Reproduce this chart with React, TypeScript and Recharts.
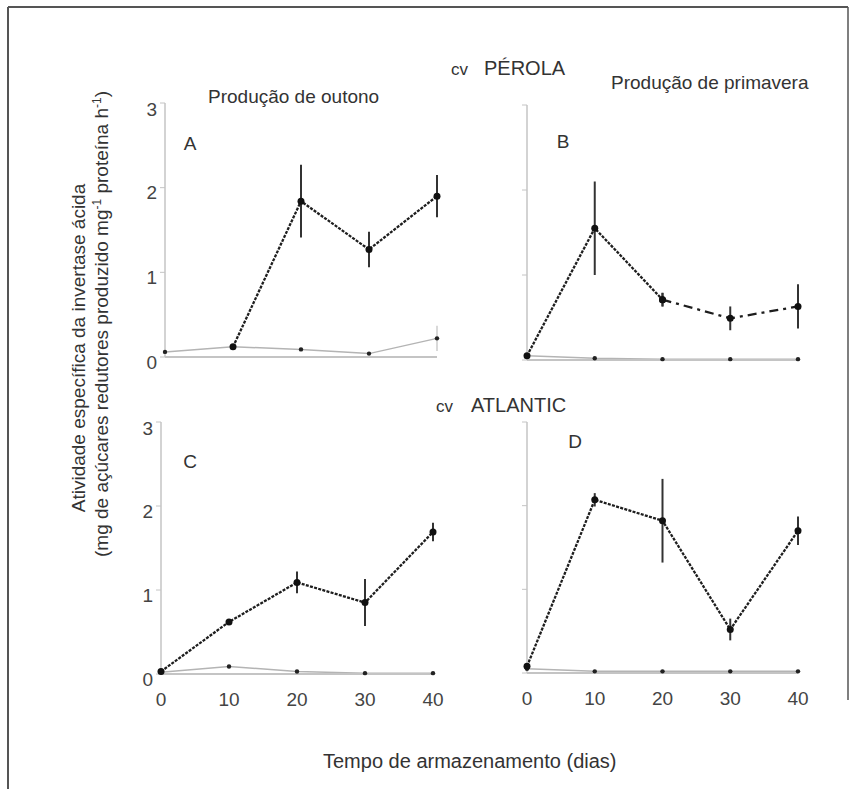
import React from 'react';
import { LineChart, Line, XAxis, YAxis, ErrorBar } from 'recharts';

const days = [0, 10, 20, 30, 40];
const xTicks = [0, 10, 20, 30, 40];
const yTicks = [0, 1, 2, 3];

// Panel A – Pérola, produção de outono
const aMain = [null, 0.12, 1.84, 1.27, 1.9];
const aMainErr = [0, 0, 0.43, 0.21, 0.25];
const aLow = [0.06, 0.12, 0.09, 0.04, 0.22];
const aLowErr = [0, 0, 0, 0, 0.15];

// Panel B – Pérola, produção de primavera
const bMain = [0.05, 1.55, 0.71, null, null];
const bMainErr = [0, 0.55, 0.08, 0, 0];
const bTail = [null, null, 0.71, 0.49, 0.63];
const bTailErr = [0, 0, 0.08, 0.14, 0.26];
const bLow = [0.05, 0.02, 0.01, 0.01, 0.01];

// Panel C – Atlantic, produção de outono
const cMain = [0.03, 0.62, 1.09, 0.85, 1.69];
const cMainErr = [0, 0.02, 0.13, 0.28, 0.11];
const cLow = [0.02, 0.09, 0.03, 0.01, 0.01];

// Panel D – Atlantic, produção de primavera
const dMain = [0.08, 2.07, 1.82, 0.52, 1.7];
const dMainErr = [0, 0.08, 0.5, 0.13, 0.17];
const dLow = [0.05, 0.02, 0.02, 0.02, 0.02];

const FONT = 'Liberation Sans, Arial, sans-serif';
const AXIS = '#c4c4c4';

type Row = { day: number; main: number | null; mainErr: number; low: number | null; lowErr: number; tail: number | null; tailErr: number };

function build(main: (number | null)[], mainErr: number[], low: number[], lowErr?: number[], tail?: (number | null)[], tailErr?: number[]): Row[] {
  return days.map((d, i) => ({
    day: d,
    main: main[i],
    mainErr: mainErr[i],
    low: low[i],
    lowErr: lowErr ? lowErr[i] : 0,
    tail: tail ? tail[i] : null,
    tailErr: tailErr ? tailErr[i] : 0,
  }));
}

const dataA = build(aMain, aMainErr, aLow, aLowErr);
const dataB = build(bMain, bMainErr, bLow, undefined, bTail, bTailErr);
const dataC = build(cMain, cMainErr, cLow);
const dataD = build(dMain, dMainErr, dLow);

type PanelProps = {
  left: number; top: number; w: number; h: number;
  data: Row[]; showX: boolean; showY: boolean; hasTail?: boolean; hasLowErr?: boolean;
};

const ML = 40, MT = 10, MR = 20, MB = 40;

function Panel({ left, top, w, h, data, showX, showY, hasTail, hasLowErr }: PanelProps) {
  return (
    <div style={{ position: 'absolute', left: left - ML, top: top - MT }}>
      <LineChart width={w + ML + MR} height={h + MT + MB} data={data} margin={{ top: MT, right: MR, bottom: 0, left: 0 }}>
        <XAxis
          dataKey="day" type="number" domain={[0, 40]} ticks={xTicks} height={MB}
          axisLine={{ stroke: AXIS, strokeWidth: 2 }} tickLine={false} tickMargin={13}
          tick={{ fill: '#444', fontSize: 19, fontFamily: FONT }}
          tickFormatter={(v: number) => (showX ? String(v) : '')}
        />
        <YAxis
          type="number" domain={[0, 3]} ticks={yTicks} width={ML}
          axisLine={{ stroke: AXIS, strokeWidth: 1.5 }} tickLine={{ stroke: AXIS }} tickSize={5} tickMargin={3}
          tick={{ fill: '#444', fontSize: 19, fontFamily: FONT, dy: 5 }}
          tickFormatter={(v: number) => (showY ? String(v) : '')}
        />
        <Line
          dataKey="low" stroke="#b4b4b4" strokeWidth={1.5} isAnimationActive={false}
          dot={{ r: 2.2, fill: '#222', stroke: '#222', strokeWidth: 0 }}
        >
          {hasLowErr ? <ErrorBar dataKey="lowErr" width={0} stroke="#ccc" strokeWidth={1.5} direction="y" isAnimationActive={false} /> : null}
        </Line>
        <Line
          dataKey="main" stroke="#1e1e1e" strokeWidth={2.3} strokeDasharray="3 1.3" isAnimationActive={false}
          dot={{ r: 3.5, fill: '#111', stroke: '#111', strokeWidth: 0 }}
        >
          <ErrorBar dataKey="mainErr" width={0} stroke="#333" strokeWidth={2} direction="y" isAnimationActive={false} />
        </Line>
        {hasTail ? (
          <Line
            dataKey="tail" stroke="#1e1e1e" strokeWidth={2.3} strokeDasharray="9 5 3 5" isAnimationActive={false}
            dot={{ r: 3.5, fill: '#111', stroke: '#111', strokeWidth: 0 }}
          >
            <ErrorBar dataKey="tailErr" width={0} stroke="#333" strokeWidth={2} direction="y" isAnimationActive={false} />
          </Line>
        ) : null}
      </LineChart>
    </div>
  );
}

export default function App() {
  const txt = { fontFamily: FONT, fill: '#333' } as const;
  return (
    <div style={{ position: 'absolute', left: 0, top: 0, width: 866, height: 789, background: '#fff', overflow: 'hidden' }}>
      <Panel left={165} top={103} w={272} h={254} data={dataA} showX={false} showY={true} hasLowErr />
      <Panel left={527} top={105} w={271} h={255} data={dataB} showX={false} showY={false} hasTail />
      <Panel left={161} top={422} w={272} h={252} data={dataC} showX={true} showY={true} />
      <Panel left={527} top={422} w={271} h={251} data={dataD} showX={true} showY={false} />
      <svg width={866} height={789} style={{ position: 'absolute', left: 0, top: 0, pointerEvents: 'none' }}>
        <line x1={8} y1={7} x2={848} y2={7} stroke="#555" strokeWidth={2} />
        <line x1={8} y1={7} x2={8} y2={789} stroke="#555" strokeWidth={2} />
        <line x1={848} y1={7} x2={848} y2={700} stroke="#555" strokeWidth={1.5} />

        <text x={451} y={75} style={txt} fontSize={17}>cv</text>
        <text x={484} y={75} style={txt} fontSize={20}>PÉROLA</text>
        <text x={208} y={103} style={txt} fontSize={19}>Produção de outono</text>
        <text x={611} y={89} style={txt} fontSize={19}>Produção de primavera</text>
        <text x={436} y={412} style={txt} fontSize={17}>cv</text>
        <text x={471} y={412} style={txt} fontSize={20}>ATLANTIC</text>

        <text x={190} y={150} style={txt} fontSize={19} textAnchor="middle">A</text>
        <text x={563} y={148} style={txt} fontSize={19} textAnchor="middle">B</text>
        <text x={190} y={468} style={txt} fontSize={19} textAnchor="middle">C</text>
        <text x={575} y={448} style={txt} fontSize={19} textAnchor="middle">D</text>

        <text transform="translate(85,348) rotate(-90)" style={txt} fontSize={19} textAnchor="middle">
          Atividade específica da invertase ácida
        </text>
        <text transform="translate(108,324) rotate(-90)" style={txt} fontSize={19} textAnchor="middle">
          (mg de açúcares redutores produzido mg<tspan dy={-7} fontSize={12}>-1</tspan><tspan dy={7}> proteína h</tspan><tspan dy={-7} fontSize={12}>-1</tspan><tspan dy={7}>)</tspan>
        </text>

        <text x={323} y={768} style={txt} fontSize={20}>Tempo de armazenamento (dias)</text>
      </svg>
    </div>
  );
}
